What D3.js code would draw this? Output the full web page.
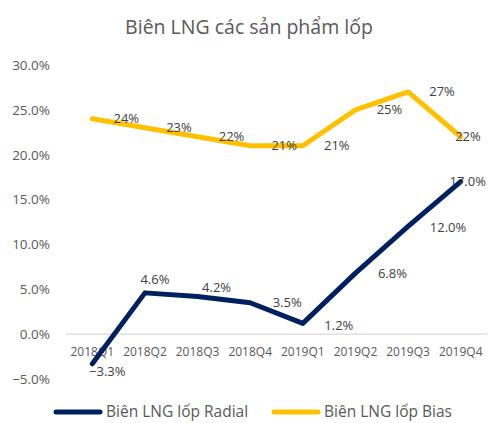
<!DOCTYPE html>
<html>
<head>
<meta charset="utf-8">
<script src="https://cdn.jsdelivr.net/npm/d3@7"></script>
<style>
  body { margin: 0; background: #fff; }
  svg { font-family: "Open Sans", "Noto Sans", sans-serif; }
</style>
</head>
<body>
<div id="chart"></div>
<script>
// Data
const quarters = ["2018Q1", "2018Q2", "2018Q3", "2018Q4", "2019Q1", "2019Q2", "2019Q3", "2019Q4"];
const radial = [-3.3, 4.6, 4.2, 3.5, 1.2, 6.8, 12.0, 17.0];
const bias = [24, 23, 22, 21, 21, 25, 27, 22];
const yTicks = [-5, 0, 5, 10, 15, 20, 25, 30];
const seriesNames = ["Biên LNG lốp Radial", "Biên LNG lốp Bias"];

const width = 488, height = 423;
const margin = {top: 65, right: 1, bottom: 44, left: 66};

const svg = d3.select("#chart").append("svg")
    .attr("width", width)
    .attr("height", height);

// Title
svg.append("text")
    .attr("x", 249)
    .attr("y", 34)
    .attr("text-anchor", "middle")
    .attr("font-size", "19.5px")
    .attr("fill", "#595959")
    .text("Biên LNG các sản phẩm lốp");

const x = d3.scaleBand()
    .domain(quarters)
    .range([margin.left, width - margin.right]);

const y = d3.scaleLinear()
    .domain([-5, 30])
    .range([height - margin.bottom, margin.top]);

// Y axis labels (no line)
const yAxis = svg.append("g")
    .attr("transform", `translate(${margin.left - 13},0)`)
    .call(d3.axisLeft(y).tickValues(yTicks).tickSize(0).tickFormat(d => d3.format(".1f")(d) + "%"));
yAxis.select(".domain").remove();
yAxis.selectAll("text")
    .attr("font-family", "Open Sans, sans-serif")
    .attr("font-size", "13.5px")
    .attr("fill", "#595959");

// Zero line
svg.append("line")
    .attr("x1", margin.left)
    .attr("x2", width - margin.right)
    .attr("y1", y(0))
    .attr("y2", y(0))
    .attr("stroke", "#d9d9d9")
    .attr("stroke-width", 1.2);

// X axis labels
const xAxis = svg.append("g")
    .attr("transform", `translate(0,${y(0) + 10})`)
    .call(d3.axisBottom(x).tickSize(0));
xAxis.select(".domain").remove();
xAxis.selectAll("text")
    .attr("font-family", "Open Sans, sans-serif")
    .attr("font-size", "12px")
    .attr("fill", "#595959");

const cx = d => x(d) + x.bandwidth() / 2;

const line = d3.line()
    .x((d, i) => cx(quarters[i]))
    .y(d => y(d));

const colors = ["#002060", "#ffc000"];

[bias, radial].forEach((s, k) => {
    svg.append("path")
        .datum(s)
        .attr("fill", "none")
        .attr("stroke", k === 0 ? colors[1] : colors[0])
        .attr("stroke-width", 5)
        .attr("stroke-linejoin", "round")
        .attr("stroke-linecap", "round")
        .attr("d", line);
});

// Data labels (placed to the right, a few moved by hand like the original)
const radialOffsets = [[15, 8], [10, -13], [19, -9], [37, 0], [36, 2], [37, 0], [40, 1], [7, 0]];
const labelColor = "#404040";

function addLabels(s, fmt, offsets) {
    svg.append("g").selectAll("text")
        .data(s)
        .join("text")
        .attr("x", (d, i) => {
            const px = cx(quarters[i]) + (offsets ? offsets[i][0] : 34);
            return Math.min(px, width - 20);
        })
        .attr("y", (d, i) => y(d) + (offsets ? offsets[i][1] : 0))
        .attr("dy", "0.35em")
        .attr("text-anchor", "middle")
        .attr("font-size", "13px")
        .attr("fill", labelColor)
        .text(fmt);
}
addLabels(bias, d => d + "%", null);
addLabels(radial, d => d3.format(".1f")(d) + "%", radialOffsets);

// Legend
const legend = svg.append("g").attr("transform", "translate(0,412)");
const legendItems = [
    {name: seriesNames[0], color: colors[0], x0: 56},
    {name: seriesNames[1], color: colors[1], x0: 274}
];
legendItems.forEach(it => {
    legend.append("line")
        .attr("x1", it.x0)
        .attr("x2", it.x0 + 44)
        .attr("stroke", it.color)
        .attr("stroke-width", 5)
        .attr("stroke-linecap", "round");
    legend.append("text")
        .attr("x", it.x0 + 50)
        .attr("dy", "0.35em")
        .attr("font-size", "15.5px")
        .attr("fill", "#595959")
        .text(it.name);
});
</script>
</body>
</html>
